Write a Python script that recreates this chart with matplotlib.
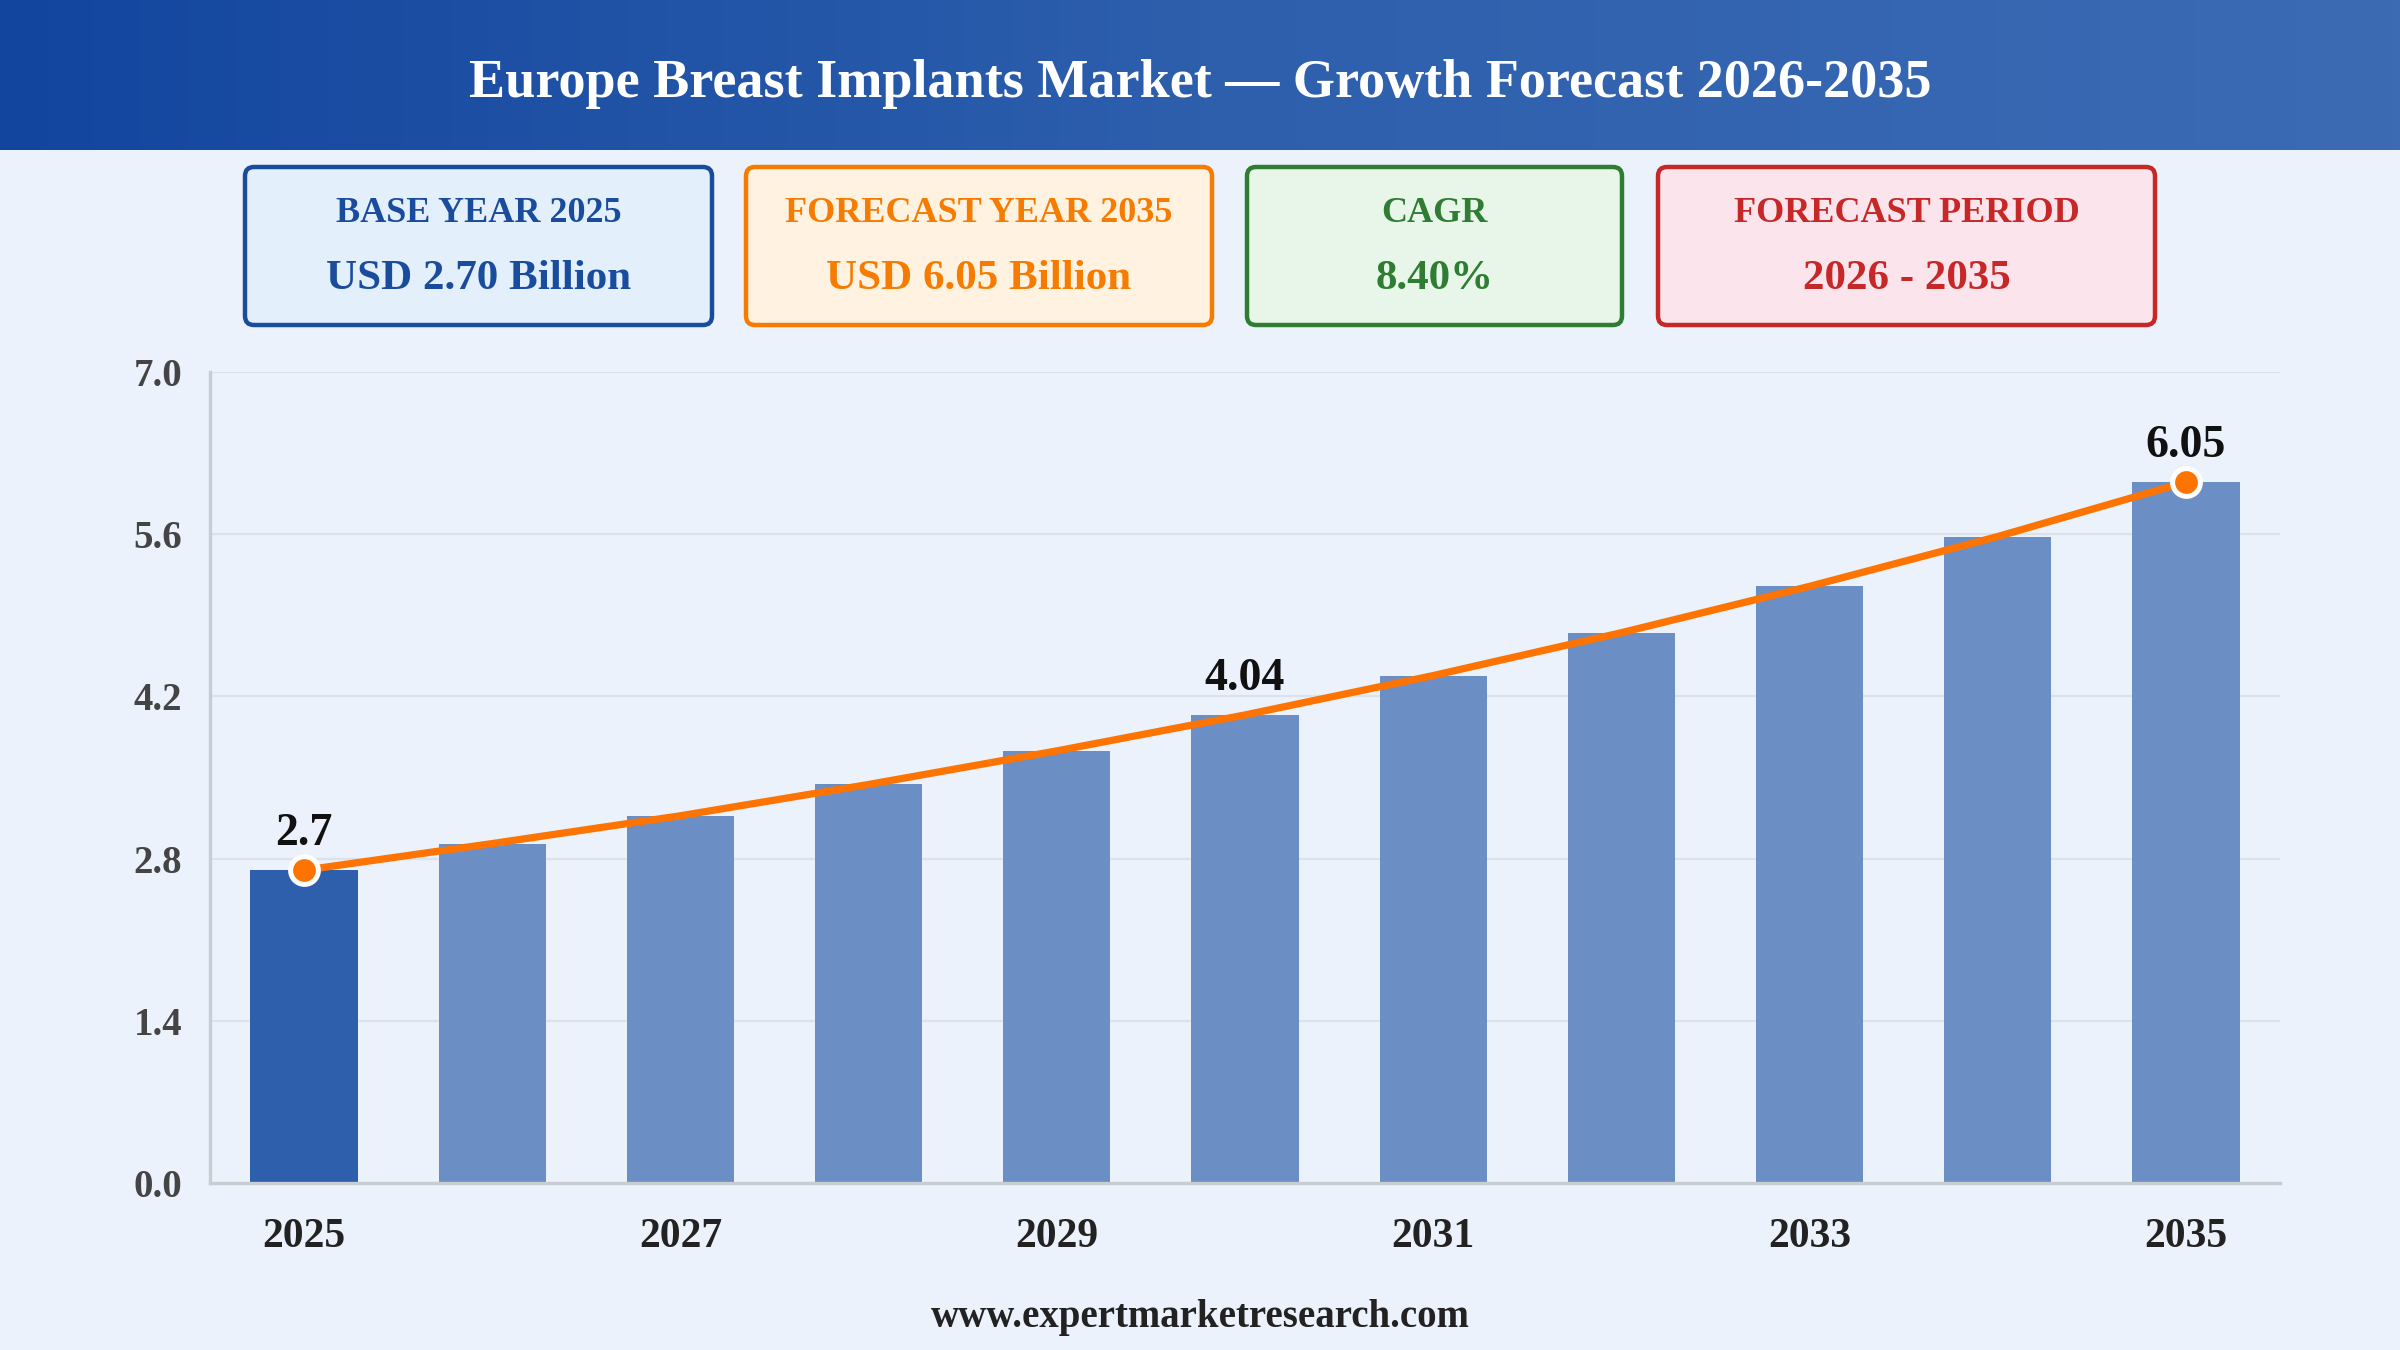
import matplotlib
matplotlib.use("Agg")
import matplotlib.pyplot as plt
import numpy as np
from matplotlib.patches import FancyBboxPatch

SERIF = ['Liberation Serif', 'DejaVu Serif']

# --- DATA ---
years = [2025, 2026, 2027, 2028, 2029, 2030, 2031, 2032, 2033, 2034, 2035]
values = [2.70, 2.93, 3.17, 3.44, 3.73, 4.04, 4.38, 4.75, 5.15, 5.58, 6.05]
labelled_years = [2025, 2030, 2035]
marked_years = [2025, 2035]
tick_years = [2025, 2027, 2029, 2031, 2033, 2035]
y_ticks = [0.0, 1.4, 2.8, 4.2, 5.6, 7.0]

title = "Europe Breast Implants Market \u2014 Growth Forecast 2026-2035"
card_titles = ["BASE YEAR 2025", "FORECAST YEAR 2035", "CAGR", "FORECAST PERIOD"]
card_values = ["USD 2.70 Billion", "USD 6.05 Billion", "8.40%", "2026 - 2035"]
footer = "www.expertmarketresearch.com"

# card look: (x0, x1) in pixels, face, edge
card_x = [(245, 712), (746, 1212), (1247, 1622), (1658, 2155)]
card_face = ['#E3F0FC', '#FFF2E0', '#E8F5E9', '#FCE4EC']
card_edge = ['#1A4C9E', '#F57C00', '#2E7D32', '#C62828']

BG = '#EBF2FB'
W, H = 2400, 1350

fig = plt.figure(figsize=(12, 6.75), dpi=200, facecolor=BG)

# background overlay in pixel units
bg = fig.add_axes([0, 0, 1, 1], zorder=0)
bg.axis('off')

# header gradient band
grad = np.linspace(0, 1, 256).reshape(1, -1)
cmap = matplotlib.colors.LinearSegmentedColormap.from_list('hdr', ['#12459E', '#2D5FAD', '#3C6BB4'])
bg.imshow(grad, cmap=cmap, extent=[0, W, 150, 0], aspect='auto', zorder=1)
bg.set_xlim(0, W)
bg.set_ylim(H, 0)
bg.text(W / 2, 84, title, color='white', fontsize=19.5, fontweight='bold',
        family=SERIF, ha='center', va='center', zorder=2)

# summary cards
for (x0, x1), fc, ec, t, v in zip(card_x, card_face, card_edge, card_titles, card_values):
    box = FancyBboxPatch((x0, 167), x1 - x0, 158,
                         boxstyle="round,pad=0,rounding_size=9",
                         facecolor=fc, edgecolor=ec, linewidth=1.6, zorder=2)
    bg.add_patch(box)
    cx = (x0 + x1) / 2
    bg.text(cx, 214, t, color=ec, fontsize=13, fontweight='bold', family=SERIF,
            ha='center', va='center', zorder=3)
    bg.text(cx, 279, v, color=ec, fontsize=15.5, fontweight='bold', family=SERIF,
            ha='center', va='center', zorder=3)

bg.text(W / 2, 1318, footer, color='#222222', fontsize=14, fontweight='bold',
        family=SERIF, ha='center', va='center', zorder=2)

# --- MAIN CHART ---
ax = fig.add_axes([210 / W, 1 - 1183 / H, (2280 - 210) / W, (1183 - 372) / H], zorder=1)
ax.set_facecolor('none')

x = np.arange(len(years))
bar_colors = ['#2E5FAD'] + ['#6B8FC4'] * (len(years) - 1)
ax.bar(x, values, width=0.57, color=bar_colors, zorder=2)
ax.plot(x, values, color='#FF7300', linewidth=2.6, zorder=3, solid_capstyle='round')

for yr in marked_years:
    i = years.index(yr)
    ax.plot(x[i], values[i], 'o', markersize=10, markerfacecolor='#FF7300',
            markeredgecolor='white', markeredgewidth=1.8, zorder=4)

for yr in labelled_years:
    i = years.index(yr)
    ax.annotate(f"{values[i]:g}", (x[i], values[i]), xytext=(0, 5.5),
                textcoords='offset points', ha='center', va='bottom',
                fontsize=16.5, fontweight='bold', family=SERIF, color='#111111', zorder=5)

ax.set_xlim(-0.5, len(years) - 0.5)
ax.set_ylim(0, 7.0)
ax.set_yticks(y_ticks)
ax.set_yticklabels([f"{t:.1f}" for t in y_ticks], fontsize=14, fontweight='bold',
                   family=SERIF, color='#444444')
ax.set_xticks([years.index(t) for t in tick_years])
ax.set_xticklabels([str(t) for t in tick_years], fontsize=15, fontweight='bold',
                   family=SERIF, color='#222222')
ax.tick_params(axis='both', length=0)
ax.tick_params(axis='x', pad=12.5)
ax.tick_params(axis='y', pad=10)

ax.grid(axis='y', color='#DCE2EA', linewidth=0.8, zorder=0)
ax.set_axisbelow(True)
for s in ['top', 'right']:
    ax.spines[s].set_visible(False)
ax.spines['left'].set_color('#C9CDD2')
ax.spines['left'].set_linewidth(1.2)
ax.spines['bottom'].set_color('#C9CDD2')
ax.spines['bottom'].set_linewidth(1.2)

fig.savefig('out.png', dpi=200, facecolor=BG)
